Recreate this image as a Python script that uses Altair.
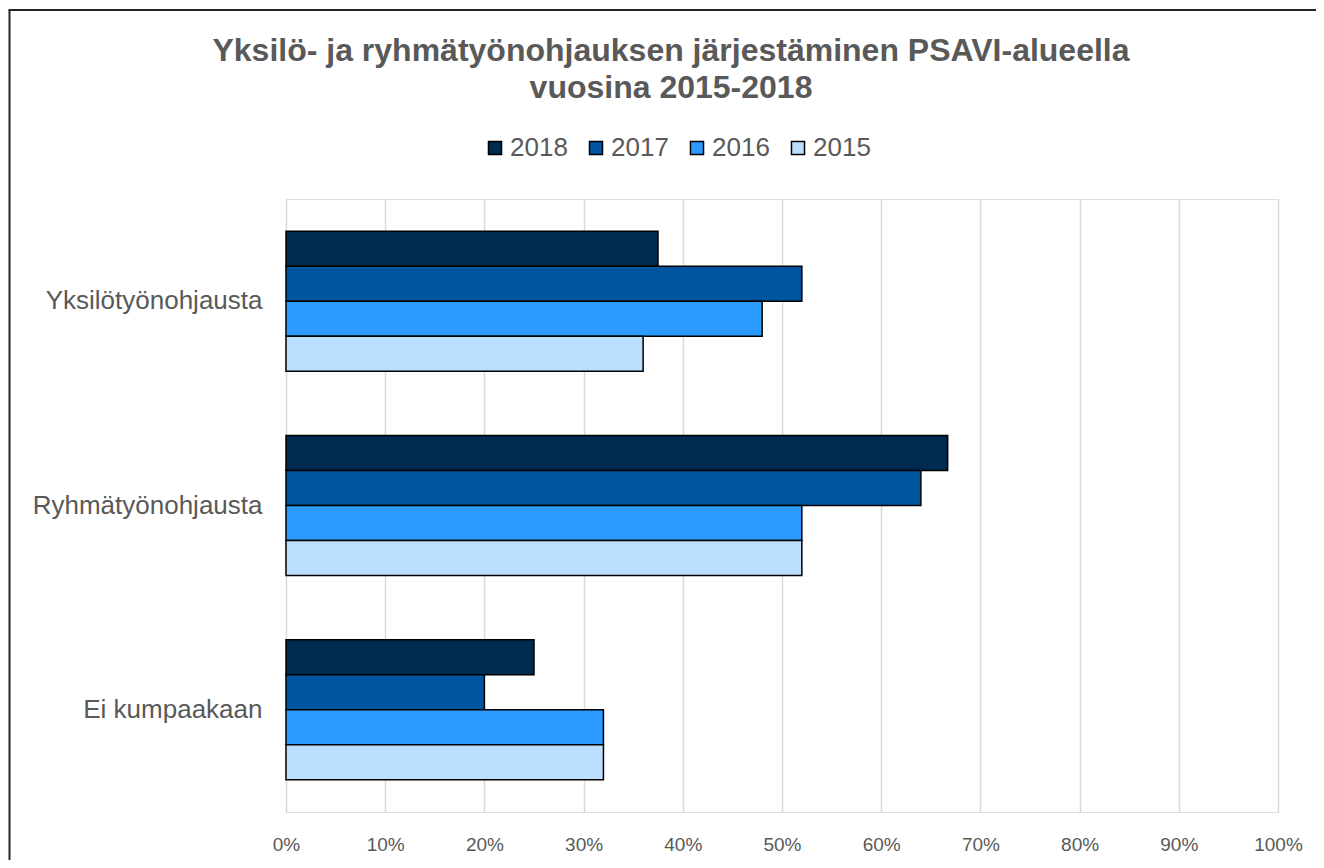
import altair as alt
import pandas as pd

categories = ["Yksilötyönohjausta", "Ryhmätyönohjausta", "Ei kumpaakaan"]
years = ["2018", "2017", "2016", "2015"]
values_2018 = [0.375, 0.667, 0.25]
values_2017 = [0.52, 0.64, 0.20]
values_2016 = [0.48, 0.52, 0.32]
values_2015 = [0.36, 0.52, 0.32]
colors = ["#002B50", "#0055A0", "#2C9BFF", "#BBDFFF"]
x_ticks = [i / 10 for i in range(11)]
title_lines = ["Yksilö- ja ryhmätyönohjauksen järjestäminen PSAVI-alueella", "vuosina 2015-2018"]

series = {"2018": values_2018, "2017": values_2017, "2016": values_2016, "2015": values_2015}
rows = []
for y in years:
    for c, v in zip(categories, series[y]):
        rows.append({"category": c, "year": y, "value": v})
df = pd.DataFrame(rows)

W, H = 992, 613
FONT = "Liberation Sans"
GREY = "#595959"

bars = alt.Chart(df).mark_bar(stroke="black", strokeWidth=1.5).encode(
    x=alt.X("value:Q", scale=alt.Scale(domain=[0, 1], nice=False),
            axis=alt.Axis(values=x_ticks, format="%", title=None, domain=False, ticks=False,
                          grid=True, gridColor="#D9D9D9", gridWidth=1.5, labelFlush=False,
                          labelFontSize=19, labelColor=GREY, labelFont=FONT, labelPadding=23)),
    y=alt.Y("category:N", sort=categories,
            scale=alt.Scale(paddingInner=0.315, paddingOuter=0.1575),
            axis=alt.Axis(title=None, domain=False, ticks=False, grid=False, labelLimit=400,
                          labelFontSize=26, labelColor=GREY, labelFont=FONT, labelPadding=24)),
    yOffset=alt.YOffset("year:N", sort=years),
    color=alt.Color("year:N", sort=years,
                    scale=alt.Scale(domain=years, range=colors),
                    legend=alt.Legend(title=None, orient="none", direction="horizontal",
                                      legendX=196, legendY=-64,
                                      symbolType="square", symbolSize=170,
                                      symbolStrokeColor="black", symbolStrokeWidth=1.5,
                                      labelFontSize=26, labelColor=GREY, labelFont=FONT,
                                      labelOffset=2, columnPadding=15)),
)

title_df = pd.DataFrame({"line": title_lines, "row": [0, 1]})
title1 = alt.Chart(title_df).transform_filter("datum.row == 0").mark_text(
    font=FONT, fontSize=32, fontWeight="bold", color=GREY, align="center", baseline="alphabetic"
).encode(text="line:N", x=alt.value(671 - 286), y=alt.value(61 - 199))
title2 = alt.Chart(title_df).transform_filter("datum.row == 1").mark_text(
    font=FONT, fontSize=32, fontWeight="bold", color=GREY, align="center", baseline="alphabetic"
).encode(text="line:N", x=alt.value(671 - 286), y=alt.value(98 - 199))

frame_df = pd.DataFrame({"k": [0]})
border_left = alt.Chart(frame_df).mark_rule(color="#262626", strokeWidth=2).encode(
    x=alt.value(-276.5), y=alt.value(-189), y2=alt.value(H + 60)
)
border_top = alt.Chart(frame_df).mark_rule(color="#262626", strokeWidth=2).encode(
    x=alt.value(-277.5), x2=alt.value(W + 60), y=alt.value(-189)
)

chart = alt.layer(bars, title1, title2, border_left, border_top).properties(
    width=W, height=H,
    padding={"left": 278, "top": 191, "right": 38, "bottom": 48},
    autosize=alt.AutoSizeParams(type="none"),
).configure_view(stroke=None, strokeWidth=0).configure(background="white")

chart.save("out.html", embed_options={"renderer": "svg", "actions": False})
